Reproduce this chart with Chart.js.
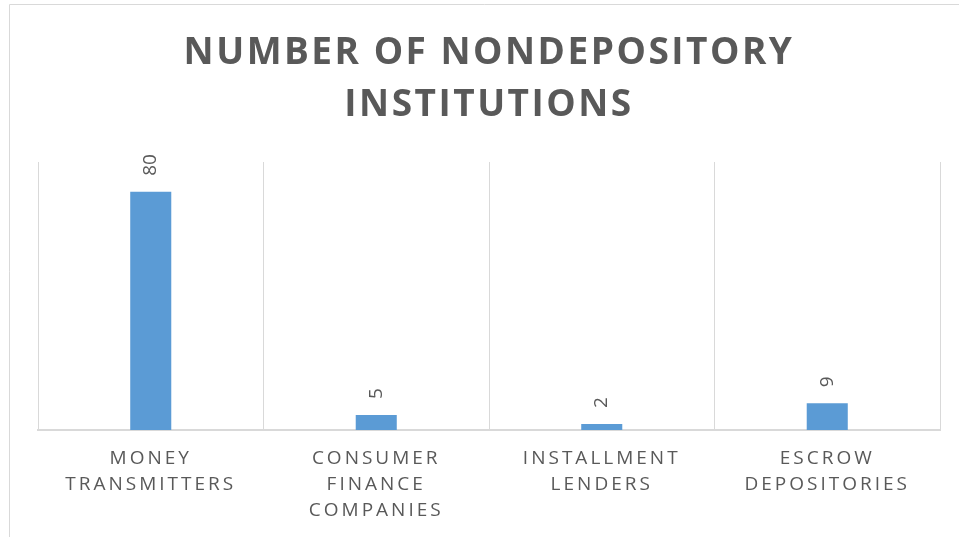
<!DOCTYPE html>
<html><head><meta charset="utf-8">
<script src="https://cdn.jsdelivr.net/npm/chart.js@4"></script>
<style>html,body{margin:0;padding:0;background:#fff;overflow:hidden}#wrap{width:959px;height:537px;position:relative}</style>
</head><body><div id="wrap"><canvas id="c"></canvas></div>
<script>
const categories = [['MONEY','TRANSMITTERS'],['CONSUMER','FINANCE','COMPANIES'],['INSTALLMENT','LENDERS'],['ESCROW','DEPOSITORIES']];
const institutionCounts = [80, 5, 2, 9];
const titleLines = ['NUMBER OF NONDEPOSITORY', 'INSTITUTIONS'];
const yMin = 0;
const yMax = 90;

const frameAndLabels = {
  id: 'frameAndLabels',
  beforeDraw(chart) {
    const ctx = chart.ctx;
    ctx.save();
    ctx.strokeStyle = '#d9d9d9';
    ctx.lineWidth = 1;
    ctx.beginPath();
    ctx.moveTo(9.5, 540);
    ctx.lineTo(9.5, 4.5);
    ctx.lineTo(chart.width + 5, 4.5);
    ctx.stroke();
    ctx.restore();
    ctx.letterSpacing = '2.5px';
  },
  beforeDatasetsDraw(chart) {
    chart.ctx.letterSpacing = '0px';
  },
  afterDatasetsDraw(chart) {
    const ctx = chart.ctx;
    const meta = chart.getDatasetMeta(0);
    const values = chart.data.datasets[0].data;
    meta.data.forEach((bar, i) => {
      ctx.save();
      ctx.translate(bar.x, bar.y - 16);
      ctx.rotate(-Math.PI / 2);
      ctx.font = '19px "Open Sans"';
      ctx.fillStyle = '#595959';
      ctx.textAlign = 'left';
      ctx.textBaseline = 'middle';
      ctx.fillText(String(values[i]), 0, 0);
      ctx.restore();
    });
    ctx.letterSpacing = '3px';
  },
  afterDraw(chart) {
    chart.ctx.letterSpacing = '0px';
  }
};

new Chart(document.getElementById('c'), {
  type: 'bar',
  data: {
    labels: categories,
    datasets: [{
      data: institutionCounts,
      backgroundColor: '#5b9bd5',
      borderWidth: 0,
      barPercentage: 0.182,
      categoryPercentage: 1
    }]
  },
  options: {
    responsive: true,
    maintainAspectRatio: false,
    animation: false,
    layout: { padding: { left: 38, right: 19, top: 0, bottom: 0 } },
    plugins: {
      legend: { display: false },
      tooltip: { enabled: false },
      title: {
        display: true,
        text: titleLines,
        color: '#595959',
        font: { family: 'Open Sans', size: 37, weight: 'bold', lineHeight: 52 / 37 },
        padding: { top: 27, bottom: 31 }
      }
    },
    scales: {
      x: {
        afterFit(scale) { scale.height = 107; },
        grid: { color: '#d9d9d9', lineWidth: 1, drawTicks: false, offset: true },
        border: { color: '#d9d9d9', width: 2 },
        ticks: {
          color: '#595959',
          font: { family: 'Open Sans', size: 19, lineHeight: 25.7 / 19 },
          padding: 16,
          maxRotation: 0,
          autoSkip: false,
          z: 1
        }
      },
      y: { display: false, min: yMin, max: yMax }
    }
  },
  plugins: [frameAndLabels]
});
</script>
</body></html>
